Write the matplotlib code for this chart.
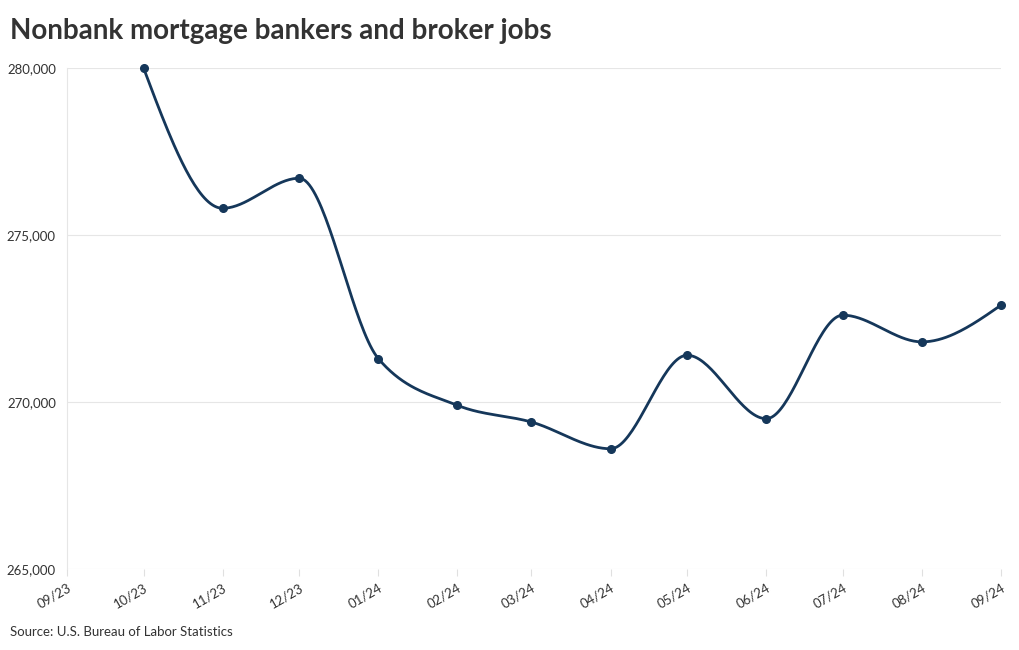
import numpy as np
import matplotlib
matplotlib.use("Agg")
import matplotlib.pyplot as plt
import matplotlib.dates as mdates
from datetime import date

plt.rcParams['font.family'] = ['Lato', 'DejaVu Sans']

months = ['2023-10-01', '2023-11-01', '2023-12-01', '2024-01-01', '2024-02-01', '2024-03-01',
          '2024-04-01', '2024-05-01', '2024-06-01', '2024-07-01', '2024-08-01', '2024-09-01']
jobs = [280000, 275800, 276700, 271300, 269900, 269400,
        268600, 271400, 269500, 272600, 271800, 272900]
tick_months = ['2023-09-01'] + months
y_ticks = [265000, 270000, 275000, 280000]

title = 'Nonbank mortgage bankers and broker jobs'
source = 'Source: U.S. Bureau of Labor Statistics'
line_color = '#15375a'


def monotone_x(x, y, n=40):
    # d3 curveMonotoneX style tangents, hermite segments
    x = np.asarray(x, float)
    y = np.asarray(y, float)
    h = np.diff(x)
    s = np.diff(y) / h
    m = np.zeros_like(y)
    for i in range(1, len(x) - 1):
        p = (s[i - 1] * h[i] + s[i] * h[i - 1]) / (h[i - 1] + h[i])
        m[i] = (np.sign(s[i - 1]) + np.sign(s[i])) * min(abs(s[i - 1]), abs(s[i]), 0.5 * abs(p))
    m[0] = (3 * s[0] - m[1]) / 2
    m[-1] = (3 * s[-1] - m[-2]) / 2
    xs, ys = [], []
    for i in range(len(x) - 1):
        t = np.linspace(0, 1, n)
        h00 = 2 * t**3 - 3 * t**2 + 1
        h10 = t**3 - 2 * t**2 + t
        h01 = -2 * t**3 + 3 * t**2
        h11 = t**3 - t**2
        xs.append(x[i] + t * h[i])
        ys.append(h00 * y[i] + h10 * h[i] * m[i] + h01 * y[i + 1] + h11 * h[i] * m[i + 1])
    return np.concatenate(xs), np.concatenate(ys)


xd = mdates.date2num([date.fromisoformat(d) for d in months])
xt = mdates.date2num([date.fromisoformat(d) for d in tick_months])

fig = plt.figure(figsize=(10.2, 6.5), dpi=100)
ax = fig.add_axes([67 / 1020, 1 - 569 / 650, 934 / 1020, 501 / 650])

cx, cy = monotone_x(xd, jobs)
ax.plot(cx, cy, color=line_color, lw=2.0, solid_capstyle='round', zorder=3, clip_on=False)
ax.plot(xd, jobs, 'o', color=line_color, ms=5.5, zorder=4, clip_on=False)

ax.set_xlim(xt[0], xt[-1])
ax.set_ylim(265000, 280000)
ax.set_yticks(y_ticks)
ax.set_yticklabels([f'{v:,}' for v in y_ticks])
ax.set_xticks(xt)
ax.set_xticklabels([date.fromisoformat(d).strftime('%m/%y') for d in tick_months],
                   rotation=30, ha='right', rotation_mode='anchor')
ax.grid(axis='y', color='#e6e6e6', lw=0.8)
ax.set_axisbelow(True)
for sp in ['top', 'right', 'bottom']:
    ax.spines[sp].set_visible(False)
ax.spines['left'].set_color('#e6e6e6')
ax.spines['left'].set_linewidth(0.8)
ax.tick_params(axis='y', length=0, pad=8, labelsize=9.5, labelcolor='#333333')
ax.tick_params(axis='x', length=5, color='#e0e0e0', width=0.8, pad=4, labelsize=9.5, labelcolor='#333333')

fig.text(10 / 1020, 1 - 31 / 650, title, fontsize=20, fontweight='bold', color='#333333', va='center')
fig.text(10 / 1020, 1 - 632 / 650, source, fontsize=9.5, color='#333333', va='center')

fig.savefig('out.png', dpi=100)
